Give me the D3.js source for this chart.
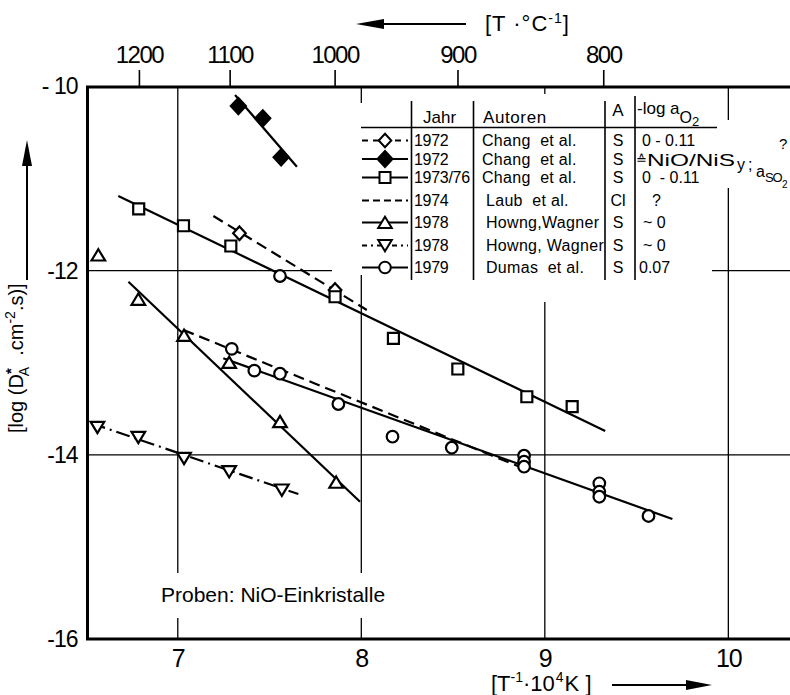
<!DOCTYPE html>
<html>
<head>
<meta charset="utf-8">
<script src="https://cdn.jsdelivr.net/npm/d3@7"></script>
<style>
  body { margin: 0; background: #fff; }
  svg { display: block; font-family: "Liberation Sans", Arial, sans-serif; }
  .tick text { fill: #000; }
  text { white-space: pre; }
</style>
</head>
<body>
<svg id="chart" width="790" height="695"></svg>
<script>
// Axis ticks
const xTicks = [7, 8, 9, 10];
const yTicks = [-10, -12, -14, -16];
const yTickLabels = ["- 10", "-12", "-14", "-16"];
const tempTicks = [1200, 1100, 1000, 900, 800];

// Data points (x = 1e4/T, y = log D)
const chang72OpenX = [7.336, 7.857];
const chang72OpenY = [-11.594, -12.210];
const chang72FilledX = [7.330, 7.463, 7.563];
const chang72FilledY = [-10.212, -10.345, -10.769];
const chang7376X = [6.787, 7.031, 7.289, 7.857, 8.175, 8.526, 8.902, 9.149];
const chang7376Y = [-11.330, -11.512, -11.732, -12.283, -12.735, -13.068, -13.369, -13.477];
const howngUpX = [6.567, 6.785, 7.034, 7.280, 7.557, 7.863];
const howngUpY = [-11.830, -12.311, -12.702, -12.997, -13.640, -14.298];
const howngDownX = [6.562, 6.785, 7.034, 7.280, 7.567];
const howngDownY = [-13.701, -13.810, -14.038, -14.183, -14.382];
const dumasX = [7.557, 7.294, 7.417, 7.557, 7.875, 8.170, 8.493, 8.887, 8.887, 8.887, 9.297, 9.297, 9.297, 9.565];
const dumasY = [-12.058, -12.849, -13.086, -13.119, -13.448, -13.803, -13.923, -14.010, -14.075, -14.129, -14.309, -14.401, -14.455, -14.664];

// Fitted lines (end points)
const lineChang72OpenX = [7.194, 8.030], lineChang72OpenY = [-11.406, -12.427];
const lineChang72FilledX = [7.312, 7.649], lineChang72FilledY = [-10.092, -10.871];
const lineChang7376X = [6.676, 9.329], lineChang7376Y = [-11.189, -13.741];
const lineLaubX = [7.031, 8.865], lineLaubY = [-12.644, -14.132];
const lineHowngUpX = [6.731, 7.993], lineHowngUpY = [-12.120, -14.509];
const lineHowngDownX = [6.531, 7.657], lineHowngDownY = [-13.658, -14.426];
const lineDumasX = [7.248, 9.695], lineDumasY = [-12.952, -14.697];

// Legend table
const legendYears = ["1972", "1972", "1973/76", "1974", "1978", "1978", "1979"];
const legendAuthors = ["Chang  et al.", "Chang  et al.", "Chang  et al.", "Laub  et al.", "Howng,Wagner", "Howng, Wagner", "Dumas  et al."];
const legendA = ["S", "S", "S", "Cl", "S", "S", "S"];
const legendLog = ["0 - 0.11", "", "0  - 0.11", "?", "~ 0", "~ 0", "0.07"];

const styles = {
  open:   {marker: "diamond",  fill: "#fff", dash: "11,6"},
  filled: {marker: "bigdiamond", fill: "#000", dash: null},
  square: {marker: "square",   fill: "#fff", dash: null},
  laub:   {marker: null,       fill: "#fff", dash: "11,6"},
  up:     {marker: "up",       fill: "#fff", dash: null},
  down:   {marker: "down",     fill: "#fff", dash: "14,5,2,5"},
  circle: {marker: "circle",   fill: "#fff", dash: null}
};
const legendKeys = ["open", "filled", "square", "laub", "up", "down", "circle"];

const svg = d3.select("#chart");
const frame = {left: 87.5, top: 87, right: 790, bottom: 639};

const x = d3.scaleLinear().domain([6.508, 10.336]).range([frame.left, frame.right]);
const y = d3.scaleLinear().domain([-10, -16]).range([86.5, frame.bottom]);

function markerPath(shape) {
  switch (shape) {
    case "diamond": return "M0,-6.8L6.3,0L0,6.8L-6.3,0Z";
    case "bigdiamond": return "M0,-8L7.5,0L0,8L-7.5,0Z";
    case "square": return "M-5.5,-5.5H5.5V5.5H-5.5Z";
    case "up": return "M0,-5.8L6.8,5.5L-6.8,5.5Z";
    case "down": return "M0,5.8L6.8,-5.5L-6.8,-5.5Z";
    case "circle": return d3.arc()({innerRadius: 0, outerRadius: 5.8, startAngle: 0, endAngle: 2 * Math.PI});
  }
}

// Grid lines
const grid = svg.append("g").attr("stroke", "#000").attr("stroke-width", 1.3);
grid.selectAll(".gx").data(xTicks).enter().append("line")
  .attr("x1", d => x(d)).attr("x2", d => x(d))
  .attr("y1", frame.top).attr("y2", frame.bottom);
grid.selectAll(".gy").data(yTicks.slice(1, 3)).enter().append("line")
  .attr("x1", frame.left).attr("x2", frame.right)
  .attr("y1", d => y(d)).attr("y2", d => y(d));

// white areas behind legend and note
const masks = svg.append("g").attr("fill", "#fff");
masks.append("rect").attr("x", 332).attr("y", 103).attr("width", 380).attr("height", 172);
masks.append("rect").attr("x", 535).attr("y", 94).attr("width", 16).attr("height", 208);
masks.append("rect").attr("x", 712).attr("y", 120).attr("width", 78).attr("height", 68);
masks.append("rect").attr("x", 158).attr("y", 573).attr("width", 228).attr("height", 45);

// Frame
const border = svg.append("g").attr("stroke", "#000").attr("stroke-width", 3).attr("fill", "none");
border.append("path").attr("d", `M${frame.right},${frame.top}H${frame.left}V${frame.bottom}H${frame.right}`);

// Top axis (temperature in °C)
const topAxis = d3.axisTop(x)
  .tickValues(tempTicks.map(t => 1e4 / (t + 273.15)))
  .tickFormat((d, i) => tempTicks[i])
  .tickSize(17).tickPadding(7);
const gTop = svg.append("g").attr("transform", `translate(0,${frame.top})`).call(topAxis);
gTop.select(".domain").remove();
gTop.selectAll(".tick line").attr("stroke-width", 1.6);
gTop.selectAll("text").attr("font-size", 24).attr("letter-spacing", "-1.5px").attr("font-family", "Liberation Sans, Arial, sans-serif");

// Bottom axis
const bottomAxis = d3.axisBottom(x).tickValues(xTicks).tickFormat(d3.format("d")).tickSize(0).tickPadding(10);
const gBot = svg.append("g").attr("transform", `translate(0,${frame.bottom})`).call(bottomAxis);
gBot.select(".domain").remove();
gBot.selectAll("text").attr("font-size", 25).attr("letter-spacing", "-1px").attr("font-family", "Liberation Sans, Arial, sans-serif");

// Left axis
const leftAxis = d3.axisLeft(y).tickValues(yTicks).tickFormat((d, i) => yTickLabels[i]).tickSize(0).tickPadding(10);
const gLeft = svg.append("g").attr("transform", `translate(${frame.left},0)`).call(leftAxis);
gLeft.select(".domain").remove();
gLeft.selectAll("text").attr("font-size", 23).attr("letter-spacing", "-1px")
  .attr("font-family", "Liberation Sans, Arial, sans-serif");

// Series
const series = [
  {key: "open", px: chang72OpenX, py: chang72OpenY, lx: lineChang72OpenX, ly: lineChang72OpenY},
  {key: "filled", px: chang72FilledX, py: chang72FilledY, lx: lineChang72FilledX, ly: lineChang72FilledY},
  {key: "square", px: chang7376X, py: chang7376Y, lx: lineChang7376X, ly: lineChang7376Y},
  {key: "laub", px: [], py: [], lx: lineLaubX, ly: lineLaubY},
  {key: "up", px: howngUpX, py: howngUpY, lx: lineHowngUpX, ly: lineHowngUpY},
  {key: "down", px: howngDownX, py: howngDownY, lx: lineHowngDownX, ly: lineHowngDownY},
  {key: "circle", px: dumasX, py: dumasY, lx: lineDumasX, ly: lineDumasY}
];

const line = d3.line().x(d => x(d[0])).y(d => y(d[1]));
const plot = svg.append("g");

series.forEach(s => {
  plot.append("path")
    .attr("d", line(s.lx.map((v, i) => [v, s.ly[i]])))
    .attr("fill", "none").attr("stroke", "#000").attr("stroke-width", 2.2)
    .attr("stroke-dasharray", styles[s.key].dash);
});
series.forEach(s => {
  const st = styles[s.key];
  plot.selectAll(null).data(s.px.map((v, i) => [v, s.py[i]])).enter().append("path")
    .attr("transform", d => `translate(${x(d[0])},${y(d[1])})`)
    .attr("d", markerPath(st.marker))
    .attr("fill", st.fill).attr("stroke", "#000").attr("stroke-width", 2.2);
});

// Legend
const legend = svg.append("g").attr("font-size", 16);
const rowY = [146, 164.5, 183, 206, 228, 251, 273];

legend.append("line").attr("x1", 361).attr("x2", 717).attr("y1", 127.5).attr("y2", 127.5)
  .attr("stroke", "#000").attr("stroke-width", 1.6);
[[411.5, 101], [473.5, 101], [605, 101], [635, 96]].forEach(c => {
  legend.append("line").attr("x1", c[0]).attr("x2", c[0]).attr("y1", c[1]).attr("y2", 280)
    .attr("stroke", "#000").attr("stroke-width", 1.6);
});

legend.append("text").attr("x", 423).attr("y", 123).attr("font-size", 17).text("Jahr");
legend.append("text").attr("x", 483).attr("y", 123).attr("font-size", 17).attr("letter-spacing", "0.6px").text("Autoren");
legend.append("text").attr("x", 618).attr("y", 116).attr("font-size", 17).attr("text-anchor", "middle").text("A");
const hdr = legend.append("text").attr("x", 637).attr("y", 114).attr("font-size", 17);
hdr.append("tspan").text("-log a");
hdr.append("tspan").attr("dy", 9).attr("font-size", 16).text("O");
hdr.append("tspan").attr("dy", 3).attr("font-size", 13).text("2");

legendKeys.forEach((k, i) => {
  const st = styles[k], cy = rowY[i] - 5.5;
  legend.append("line").attr("x1", 362).attr("x2", 408).attr("y1", cy).attr("y2", cy)
    .attr("stroke", "#000").attr("stroke-width", 2).attr("stroke-dasharray", k === "laub" ? "7,4" : st.dash === "14,5,2,5" ? "5,4,2,4" : st.dash ? "6,5" : null);
  if (st.marker) {
    legend.append("path").attr("transform", `translate(385,${cy})`)
      .attr("d", markerPath(st.marker)).attr("fill", st.fill).attr("stroke", "#000").attr("stroke-width", 2);
  }
});

legend.selectAll(".yr").data(legendYears).enter().append("text")
  .attr("x", 414).attr("y", (d, i) => rowY[i]).attr("letter-spacing", "-0.3px").text(d => d);
legend.selectAll(".au").data(legendAuthors).enter().append("text")
  .attr("x", (d, i) => i < 3 ? 482 : 486).attr("y", (d, i) => rowY[i]).attr("letter-spacing", "0.3px").text(d => d);
legend.selectAll(".aa").data(legendA).enter().append("text")
  .attr("x", 618).attr("y", (d, i) => rowY[i]).attr("text-anchor", "middle").text(d => d);
legend.selectAll(".lg").data(legendLog).enter().append("text")
  .attr("x", (d, i) => [642, 636, 642, 652, 643, 643, 639][i]).attr("y", (d, i) => rowY[i]).text(d => d);

// row 2 special entry
legend.append("text").attr("x", 636).attr("y", 164).attr("font-size", 13).text("≙");
legend.append("text").attr("x", 647).attr("y", 165.5).attr("font-size", 16)
  .attr("textLength", 88).attr("lengthAdjust", "spacingAndGlyphs").text("NiO/NiS");
legend.append("text").attr("x", 737).attr("y", 170).text("y");
legend.append("text").attr("x", 748).attr("y", 170).text(";");
legend.append("text").attr("x", 756).attr("y", 177).text("a");
legend.append("text").attr("x", 765).attr("y", 182).attr("font-size", 13).attr("letter-spacing", "-1.2px").text("SO");
legend.append("text").attr("x", 782).attr("y", 188).attr("font-size", 10).text("2");
legend.append("text").attr("x", 779).attr("y", 149).attr("font-size", 15).text("?");

// Note
svg.append("text").attr("x", 161).attr("y", 602).attr("font-size", 21).text("Proben: NiO-Einkristalle");

// Axis titles
const topTitle = svg.append("text").attr("x", 485).attr("y", 31).attr("font-size", 22).attr("letter-spacing", "1px");
topTitle.append("tspan").text("[T ·°C");
topTitle.append("tspan").attr("dy", -8).attr("font-size", 14).text("-1");
topTitle.append("tspan").attr("dy", 8).text("]");
svg.append("line").attr("x1", 380).attr("x2", 466).attr("y1", 24).attr("y2", 24).attr("stroke", "#000").attr("stroke-width", 2);
svg.append("path").attr("d", "M356,24L384,19L384,29Z").attr("fill", "#000");

const botTitle = svg.append("text").attr("x", 491).attr("y", 691).attr("font-size", 22);
botTitle.append("tspan").text("[T");
botTitle.append("tspan").attr("dy", -9).attr("font-size", 14).text("-1");
botTitle.append("tspan").attr("dy", 9).text("·10");
botTitle.append("tspan").attr("dy", -9).attr("dx", 1).attr("font-size", 14).text("4");
botTitle.append("tspan").attr("dy", 9).attr("dx", 1).text("K ]");
svg.append("line").attr("x1", 612).attr("x2", 690).attr("y1", 685).attr("y2", 685).attr("stroke", "#000").attr("stroke-width", 2);
svg.append("path").attr("d", "M712,685L686,680L686,690Z").attr("fill", "#000");

const yTitle = svg.append("text").attr("transform", "translate(23,433) rotate(-90)").attr("font-size", 20);
yTitle.append("tspan").text("[log (D");
yTitle.append("tspan").attr("dy", -7).attr("font-size", 15).attr("font-weight", "bold").text("*");
yTitle.append("tspan").attr("dx", -8).attr("dy", 13).attr("font-size", 14).text("A");
yTitle.append("tspan").attr("dy", -6).text("  .cm");
yTitle.append("tspan").attr("dy", -8).attr("font-size", 14).text("-2");
yTitle.append("tspan").attr("dy", 8).text(".s)]");
svg.append("line").attr("x1", 27).attr("x2", 27).attr("y1", 280).attr("y2", 162).attr("stroke", "#000").attr("stroke-width", 2);
svg.append("path").attr("d", "M27,140L22,166L32,166Z").attr("fill", "#000");
</script>
</body>
</html>
